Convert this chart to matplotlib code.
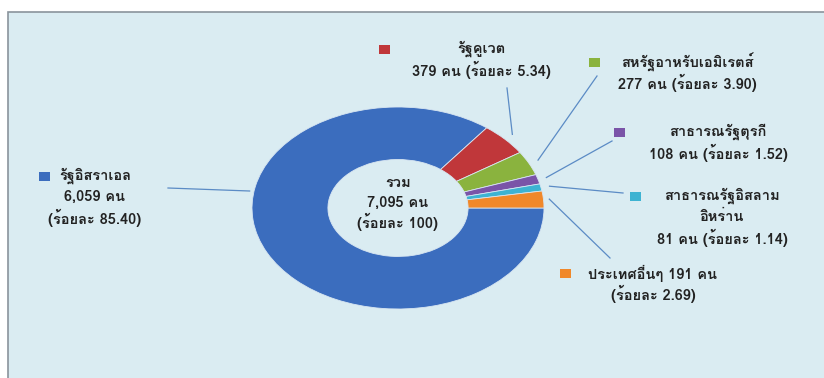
import matplotlib
matplotlib.use("Agg")
import numpy as np
import matplotlib.pyplot as plt
from matplotlib import font_manager
from matplotlib.ft2font import FT2Font
from matplotlib.patches import Rectangle


def thai_family():
    # Loma, если есть; иначе первый шрифт с тайскими буквами
    names = []
    for f in font_manager.fontManager.ttflist:
        try:
            if 0x0E23 in FT2Font(f.fname).get_charmap():
                names.append(f.name)
        except Exception:
            continue
    if 'Loma' in names:
        return 'Loma'
    return names[0] if names else None


thai = thai_family()
plt.rcParams['font.family'] = [thai, 'DejaVu Sans'] if thai else ['DejaVu Sans']

# Данные
countries = ['รัฐอิสราเอล', 'รัฐคูเวต', 'สหรัฐอาหรับเอมิเรตส์',
             'สาธารณรัฐตุรกี', 'สาธารณรัฐอิสลาม\nอิหร่าน', 'ประเทศอื่นๆ']
counts = [6059, 379, 277, 108, 81, 191]
percents = [85.40, 5.34, 3.90, 1.52, 1.14, 2.69]
total = sum(counts)

colors = ['#3B6DBE', '#C0373A', '#8AB33E', '#7A54A8', '#3DB3D2', '#F0882A']

W, H = 824, 378
fig = plt.figure(figsize=(W / 100, H / 100), dpi=100)
fig.patch.set_facecolor('white')

# фон-подложка в пиксельных координатах
bg = fig.add_axes([0, 0, 1, 1])
bg.set_xlim(0, W)
bg.set_ylim(H, 0)
bg.axis('off')
bg.add_patch(Rectangle((8.5, 11.5), W, H, facecolor='#DAECF2',
                       edgecolor='#8A949C', lw=1.2))

# кольцо: отдельные оси, растянутые в эллипс
cx, cy, rx, ry = 398, 208, 146, 101
ax = fig.add_axes([(cx - rx) / W, (H - cy - ry) / H, 2 * rx / W, 2 * ry / H])
wedges, _ = ax.pie(counts, colors=colors, startangle=0, counterclock=False,
                   radius=1.0,
                   wedgeprops=dict(width=0.52, edgecolor='#D8E6F2', linewidth=0.6))
ax.set_aspect('auto')
ax.set_xlim(-1, 1)
ax.set_ylim(-1, 1)
ax.axis('off')

# подписи
text_kw = dict(fontsize=10.5, fontweight='bold', color='#222222',
               ha='center', va='center')
LINE = 21


def label_lines(i):
    name = countries[i].split('\n')
    n = f'{counts[i]:,} คน'
    p = f'(ร้อยละ {percents[i]:.2f})'
    if i == 0:
        return name + [n, p]
    if i == 5:
        return [f'{name[0]} {n}', p]
    return name + [f'{n} {p}']


# позиция текста (центр x, y первой строки), маркер, угол выноски
layout = [
    dict(x=95, y=176, mx=45, angle=170.6, r=1.03, tx=168, ty=188),
    dict(x=481, y=49, mx=385, angle=None, r=1.07, tx=507, ty=88),
    dict(x=687, y=62, mx=595, angle=None, r=1.07, tx=597, ty=76),
    dict(x=718, y=132, mx=620, angle=None, r=1.06, tx=612, ty=141),
    dict(x=722, y=196, mx=636, angle=None, r=1.06, tx=623, ty=193),
    dict(x=653, y=273, mx=566, angle=None, r=1.04, tx=610, ty=258),
]

for i, (w, lay) in enumerate(zip(wedges, layout)):
    for k, line in enumerate(label_lines(i)):
        bg.text(lay['x'], lay['y'] + k * LINE, line, **text_kw)
    bg.add_patch(Rectangle((lay['mx'] - 5.5, lay['y'] - 4.5), 11, 9,
                           facecolor=colors[i], edgecolor='none'))
    ang = lay['angle'] if lay['angle'] is not None else (w.theta1 + w.theta2) / 2
    ex = lay['r'] * np.cos(np.deg2rad(ang))
    ey = lay['r'] * np.sin(np.deg2rad(ang))
    px, py = ax.transData.transform((ex, ey))
    px, py = bg.transData.inverted().transform((px, py))
    bg.plot([lay['tx'], px], [lay['ty'], py], color='#5B8BC5', lw=0.9)

# центр кольца
for k, line in enumerate(['รวม', f'{total:,} คน', '(ร้อยละ 100)']):
    bg.text(cx, 183 + k * 19.5, line, **text_kw)

fig.savefig('out.png', dpi=100)
